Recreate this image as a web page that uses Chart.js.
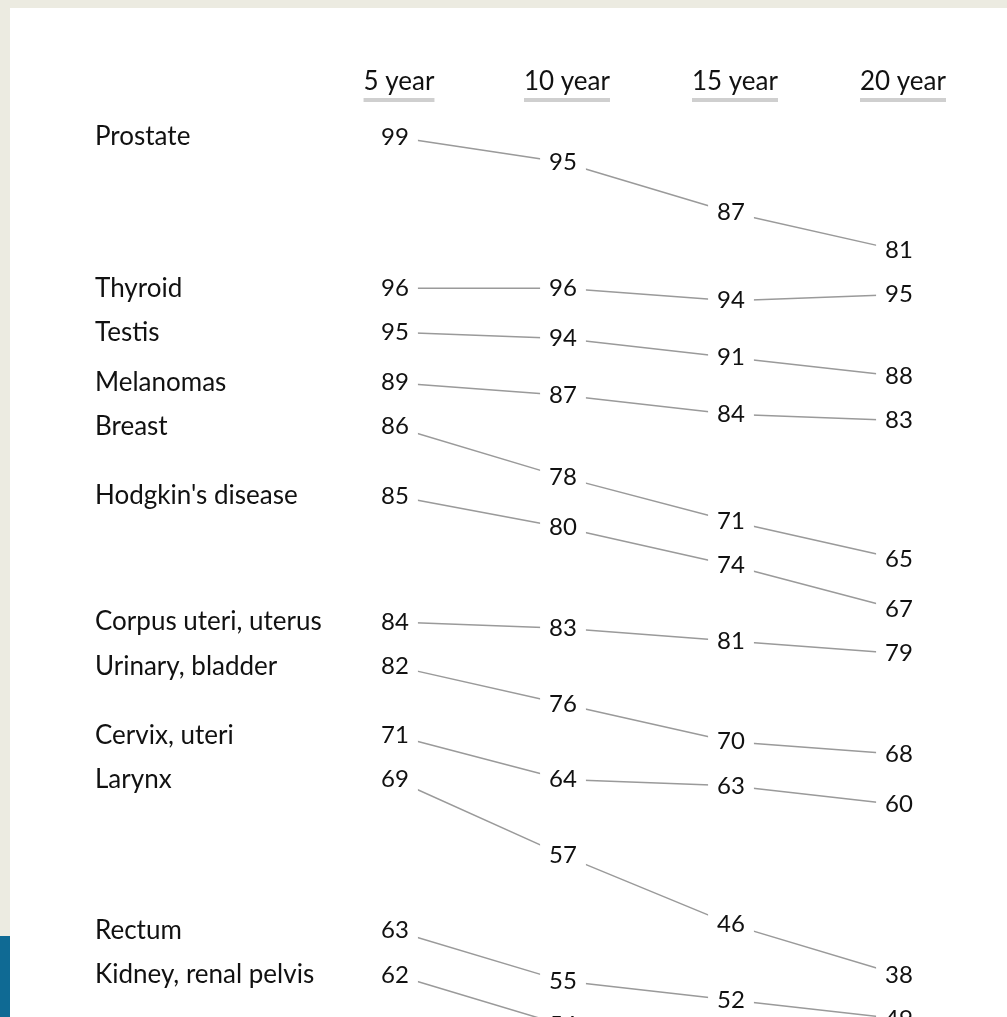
<!DOCTYPE html>
<html><head><meta charset="utf-8">
<script src="https://cdn.jsdelivr.net/npm/chart.js@4/dist/chart.umd.min.js"></script>
<style>
html,body{margin:0;padding:0;background:#ecebe1;overflow:hidden;width:1007px;height:1017px;}
#panel{position:absolute;left:10px;top:8px;width:997px;height:1009px;background:#ffffff;}
#blue{position:absolute;left:0;top:936px;width:10px;height:81px;background:#0f6a94;}
#c{position:absolute;left:0;top:0;}
</style></head>
<body>
<div id="panel"></div><div id="blue"></div>
<canvas id="c" width="1007" height="1017" style="width:1007px;height:1017px"></canvas>
<script>
// ---- data ----
const periods = ['5 year', '10 year', '15 year', '20 year'];
const cancers = ['Prostate', 'Thyroid', 'Testis', 'Melanomas', 'Breast', "Hodgkin's disease",
  'Corpus uteri, uterus', 'Urinary, bladder', 'Cervix, uteri', 'Larynx', 'Rectum', 'Kidney, renal pelvis'];
const prostate = [99, 95, 87, 81];
const thyroid = [96, 96, 94, 95];
const testis = [95, 94, 91, 88];
const melanomas = [89, 87, 84, 83];
const breast = [86, 78, 71, 65];
const hodgkins = [85, 80, 74, 67];
const corpusUteri = [84, 83, 81, 79];
const urinaryBladder = [82, 76, 70, 68];
const cervixUteri = [71, 64, 63, 60];
const larynx = [69, 57, 46, 38];
const rectum = [63, 55, 52, 49];
const kidney = [62, 54, 50, 47];
const survival = [prostate, thyroid, testis, melanomas, breast, hodgkins, corpusUteri,
  urinaryBladder, cervixUteri, larynx, rectum, kidney];

// ---- slopegraph layout: each row drops by its own values, rows stacked with a minimum gap ----
const GAP = 7; // minimum vertical gap between consecutive rows, in percentage points
const drops = [];
let prevRow = null;
survival.forEach(vals => {
  const rel = vals.map(v => vals[0] - v);
  let off = 0;
  if (prevRow) off = Math.max(...rel.map((r, i) => prevRow[i] + GAP - r));
  const row = rel.map(r => r + off);
  drops.push(row);
  prevRow = row;
});

const TEXT = '#111111';
const LINE = '#9a9a9a';
const FONT = 'Lato, "Open Sans", sans-serif';

const labelPlugin = {
  id: 'slopeLabels',
  afterDatasetsDraw(chart) {
    const ctx = chart.ctx;
    const xs = chart.scales.x;
    ctx.save();
    ctx.textBaseline = 'middle';
    // column headers with underline
    ctx.font = '26px ' + FONT;
    periods.forEach((p, i) => {
      const cx = xs.getPixelForValue(i) + 4;
      const w = ctx.measureText(p).width;
      ctx.fillStyle = TEXT;
      ctx.textAlign = 'center';
      ctx.fillText(p, cx, 82);
      ctx.fillStyle = '#cfcfcf';
      ctx.fillRect(cx - w / 2, 98, w, 4);
    });
    // values
    chart.data.datasets.forEach((ds, di) => {
      const meta = chart.getDatasetMeta(di);
      meta.data.forEach((pt, i) => {
        const txt = String(survival[di][i]);
        ctx.font = '24px ' + FONT;
        const w = ctx.measureText(txt).width;
        ctx.fillStyle = '#ffffff';
        ctx.fillRect(pt.x - w / 2 - 9, pt.y - 12, w + 18, 24);
        ctx.fillStyle = TEXT;
        ctx.textAlign = 'center';
        ctx.fillText(txt, pt.x, pt.y);
      });
      // row label
      const first = meta.data[0];
      ctx.font = '26px ' + FONT;
      ctx.textAlign = 'left';
      ctx.fillStyle = TEXT;
      ctx.fillText(cancers[di], 95, first.y);
    });
    ctx.restore();
  }
};

new Chart(document.getElementById('c'), {
  type: 'line',
  data: {
    labels: periods,
    datasets: survival.map((vals, i) => ({
      label: cancers[i],
      data: drops[i],
      borderColor: LINE,
      borderWidth: 1.5,
      pointRadius: 0,
      tension: 0,
      fill: false,
      clip: false
    }))
  },
  options: {
    responsive: false,
    animation: false,
    devicePixelRatio: 1,
    layout: { padding: { left: 395, right: 108, top: 100, bottom: 0 } },
    plugins: { legend: { display: false }, tooltip: { enabled: false }, title: { display: false } },
    scales: {
      x: { type: 'category', display: false, offset: false },
      y: { type: 'linear', display: false, reverse: true, min: -5.87, max: 139.7 }
    }
  },
  plugins: [labelPlugin]
});
</script>
</body></html>
